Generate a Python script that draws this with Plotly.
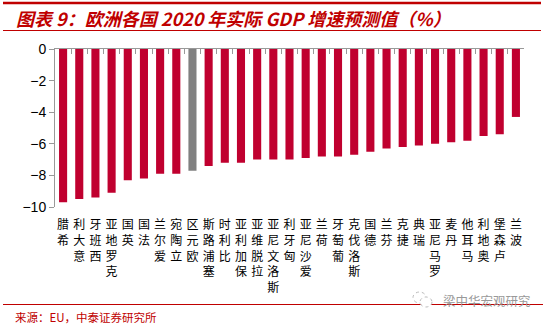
import plotly.graph_objects as go

countries = ["希腊", "意大利", "西班牙", "克罗地亚", "英国", "法国", "爱尔兰", "立陶宛",
             "欧元区", "塞浦路斯", "比利时", "保加利亚", "拉脱维亚", "斯洛文尼亚", "匈牙利",
             "爱沙尼亚", "荷兰", "葡萄牙", "斯洛伐克", "德国", "芬兰", "捷克", "瑞典",
             "罗马尼亚", "丹麦", "马耳他", "奥地利", "卢森堡", "波兰"]
growth = [-9.7, -9.5, -9.4, -9.1, -8.3, -8.2, -7.9, -7.9, -7.7, -7.4, -7.2, -7.2, -7.0,
          -7.0, -7.0, -6.9, -6.8, -6.8, -6.7, -6.5, -6.3, -6.2, -6.1, -6.0, -5.9, -5.8,
          -5.5, -5.4, -4.3]
highlight = "欧元区"
y_ticks = [0, -2, -4, -6, -8, -10]

W, H = 549, 327
ML, MR, MT, MB = 55, 25, 49, 120
PW, PH = W - ML - MR, H - MT - MB

def px(x):
    return (x - ML) / PW

def py(y):
    return (H - MB - y) / PH

RED = "#C0002F"
GRAY = "#808080"
colors = [GRAY if c == highlight else RED for c in countries]
labels = ["<br>".join(list(c)[::-1]) for c in countries]

fig = go.Figure()
fig.add_trace(go.Bar(x=countries, y=growth, marker=dict(color=colors, line=dict(width=0)),
                     width=0.5, hoverinfo="skip", showlegend=False))
fig.add_trace(go.Scatter(x=countries, y=[0] * len(countries), xaxis="x2", mode="markers",
                         marker=dict(opacity=0), hoverinfo="skip", showlegend=False))

fig.update_layout(
    width=W, height=H,
    margin=dict(l=ML, r=MR, t=MT, b=MB),
    paper_bgcolor="white", plot_bgcolor="white",
    font=dict(family="Noto Sans CJK SC", color="black"),
    xaxis=dict(type="category", categoryorder="array", categoryarray=countries,
               range=[-0.5, len(countries) - 0.5],
               tickvals=countries, ticktext=labels, tickangle=0,
               tickfont=dict(family="Noto Sans CJK SC", size=12, color="black"),
               showline=False, showgrid=False, zeroline=False,
               ticks="outside", ticklen=7, tickcolor="rgba(0,0,0,0)"),
    xaxis2=dict(type="category", categoryorder="array", categoryarray=countries,
                range=[-0.5, len(countries) - 0.5], overlaying="x", side="top",
                anchor="y", showticklabels=False, showline=True, linecolor="#999999",
                linewidth=1, ticks="inside", ticklen=5, tickcolor="#999999",
                tickson="boundaries", showgrid=False, zeroline=False),
    yaxis=dict(range=[-10, 0], tickvals=y_ticks,
               ticktext=[("−" + str(-v)) if v < 0 else str(v) for v in y_ticks],
               tickfont=dict(family="Liberation Sans, Arial", size=14, color="black"),
               showline=True, linecolor="#999999", linewidth=1, ticks="outside",
               ticklen=5, tickcolor="#999999", showgrid=False, zeroline=False),
    bargap=0.5,
)

shapes = [
    dict(type="line", xref="paper", yref="paper", x0=px(3), x1=px(541), y0=py(3), y1=py(3),
         line=dict(color="#C00000", width=2.5)),
    dict(type="line", xref="paper", yref="paper", x0=px(3), x1=px(541), y0=py(30.5), y1=py(30.5),
         line=dict(color="#C00000", width=1)),
    dict(type="line", xref="paper", yref="paper", x0=px(3), x1=px(543), y0=py(304.5), y1=py(304.5),
         line=dict(color="#C00000", width=1.2)),
    dict(type="circle", xref="paper", yref="paper", x0=px(413), x1=px(426), y0=py(292), y1=py(303),
         line=dict(color="#bbbbbb", width=1, dash="dot"), fillcolor="white"),
    dict(type="circle", xref="paper", yref="paper", x0=px(420), x1=px(432), y0=py(297), y1=py(307),
         line=dict(color="#bbbbbb", width=1, dash="dot"), fillcolor="white"),
]
fig.update_layout(shapes=shapes)

fig.add_annotation(text="<b><i>图表 9：欧洲各国 2020 年实际 GDP 增速预测值（%）</i></b>",
                   xref="paper", yref="paper", x=px(14), y=py(17.5), xanchor="left",
                   yanchor="middle", showarrow=False,
                   font=dict(family="Noto Sans CJK SC", size=18, color="#C00000"))
fig.add_annotation(text="来源：EU，中泰证券研究所",
                   xref="paper", yref="paper", x=px(13), y=py(317), xanchor="left",
                   yanchor="middle", showarrow=False,
                   font=dict(family="Noto Sans CJK SC", size=11.5, color="#C00000"))
fig.add_annotation(text="梁中华宏观研究",
                   xref="paper", yref="paper", x=px(441), y=py(300), xanchor="left",
                   yanchor="middle", showarrow=False, bgcolor="rgba(255,255,255,0.0)",
                   font=dict(family="Noto Sans CJK SC", size=12.5, color="#999999"))

fig.write_html("out.html")
